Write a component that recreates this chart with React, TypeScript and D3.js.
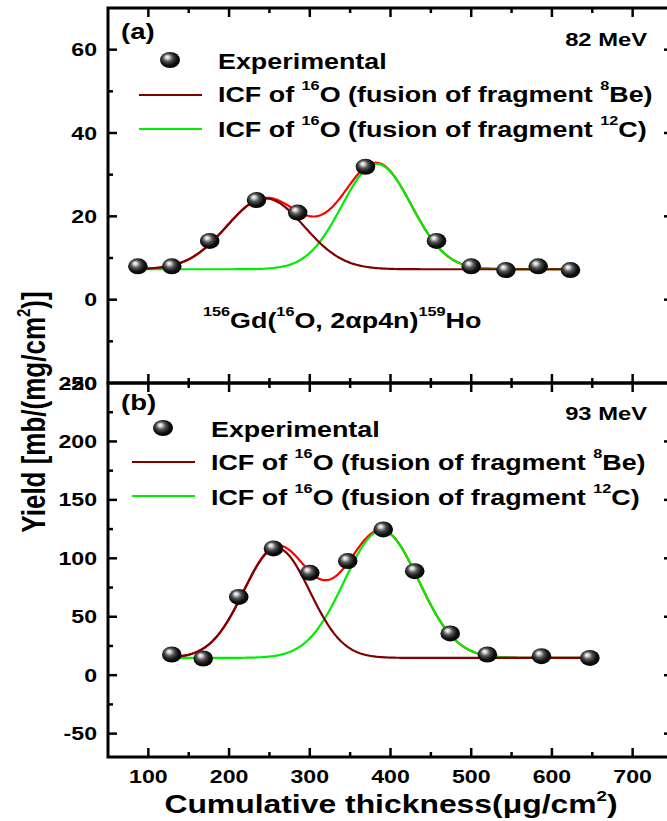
import React from "react";
import * as d3 from "d3";

// ---- data: panel (a) 82 MeV ----
const thickA = [87, 129, 176, 234, 285, 369, 457, 500, 543, 583, 623];
const yieldA = [8.0, 8.0, 14.1, 23.9, 20.9, 31.9, 14.1, 8.0, 7.1, 8.0, 7.1];
// Gaussian fit parameters: [baseline], centres, amplitudes, widths (Be, C)
const fitBaseA = 7.3;
const fitCentreA = [245, 383];
const fitAmpA = [17, 25.3];
const fitWidthA = [48, 43];

// ---- data: panel (b) 93 MeV ----
const thickB = [129, 168, 212, 255, 300, 347, 391, 430, 474, 520, 587, 647];
const yieldB = [17.7, 14.3, 67, 108.5, 87.6, 97.6, 124.7, 89, 35.7, 17.7, 16.3, 14.8];
const fitBaseB = 14.8;
const fitCentreB = [259, 389];
const fitAmpB = [94, 109];
const fitWidthB = [41, 46];

const xTicksMajor = [100, 200, 300, 400, 500, 600, 700];
const xTicksMinor = [150, 250, 350, 450, 550, 650];
const yTicksA = [-20, 0, 20, 40, 60];
const yMinorA = [-10, 10, 30, 50];
const yTicksB = [-50, 0, 50, 100, 150, 200, 250];
const yMinorB = [-25, 25, 75, 125, 175, 225];

const W = 667, H = 821;
const L = 108, R = 673, TOP = 8, MID = 383, BOT = 757;
const SX = 1.25;
const FONT = "'Liberation Sans', Arial, sans-serif";
const BROWN = "#800000", GREEN = "#00ee00", RED = "#ff0000";

const x = d3.scaleLinear().domain([50, 750]).range([L, R]);
const ya = d3.scaleLinear().domain([-20, 70]).range([MID, TOP]);
const yb = d3.scaleLinear().domain([-70, 250]).range([BOT, MID]);

function T({ x, y, size, anchor = "start", rot = false, children }: any) {
  return (
    <text
      transform={`translate(${x},${y}) scale(${SX},1)${rot ? " rotate(-90)" : ""}`}
      fontSize={size}
      textAnchor={anchor}
      fontFamily={FONT}
      fontWeight="bold"
      fill="#000"
    >
      {children}
    </text>
  );
}

function Sup({ t, size, d }: any) {
  return (
    <tspan dy={-d} fontSize={size}>
      {t}
    </tspan>
  );
}

function gauss(xv: number, c: number, a: number, w: number) {
  return a * Math.exp(-((xv - c) * (xv - c)) / (2 * w * w));
}

function Panel({ ys, thick, yld, base, centres, amps, widths, top, bottom, majors, minors }: any) {
  const x0 = thick[0], x1 = thick[thick.length - 1];
  const xs = d3.range(0, 301).map((i) => x0 + ((x1 - x0) * i) / 300);
  const mk = (f: (v: number) => number) =>
    d3.line<number>().x((v) => x(v)).y((v) => ys(f(v)))(xs) as string;
  const be = mk((v) => base + gauss(v, centres[0], amps[0], widths[0]));
  const c12 = mk((v) => base + gauss(v, centres[1], amps[1], widths[1]));
  const sum = mk(
    (v) => base + gauss(v, centres[0], amps[0], widths[0]) + gauss(v, centres[1], amps[1], widths[1])
  );
  return (
    <g>
      <path d={sum} fill="none" stroke={RED} strokeWidth={2.2} />
      <path d={c12} fill="none" stroke={GREEN} strokeWidth={2.2} />
      <path d={be} fill="none" stroke={BROWN} strokeWidth={2.2} />
      {thick.map((t: number, i: number) => (
        <ellipse key={i} cx={x(t)} cy={ys(yld[i])} rx={9.8} ry={8} fill="url(#sphere)" />
      ))}
      {/* ticks */}
      {xTicksMajor.map((t) => (
        <g key={"xm" + t}>
          <line x1={x(t)} x2={x(t)} y1={top} y2={top + 9} stroke="#000" strokeWidth={2.5} />
          <line x1={x(t)} x2={x(t)} y1={bottom} y2={bottom - 9} stroke="#000" strokeWidth={2.5} />
        </g>
      ))}
      {xTicksMinor.map((t) => (
        <g key={"xn" + t}>
          <line x1={x(t)} x2={x(t)} y1={top} y2={top + 5} stroke="#000" strokeWidth={2.5} />
          <line x1={x(t)} x2={x(t)} y1={bottom} y2={bottom - 5} stroke="#000" strokeWidth={2.5} />
        </g>
      ))}
      {majors.filter((t: number) => ys(t) > top + 2 && ys(t) < bottom - 2).map((t: number) => (
        <g key={"ym" + t}>
          <line x1={L} x2={L + 9} y1={ys(t)} y2={ys(t)} stroke="#000" strokeWidth={2.5} />
          <line x1={R} x2={R - 9} y1={ys(t)} y2={ys(t)} stroke="#000" strokeWidth={2.5} />
        </g>
      ))}
      {minors.map((t: number) => (
        <g key={"yn" + t}>
          <line x1={L} x2={L + 5} y1={ys(t)} y2={ys(t)} stroke="#000" strokeWidth={2.5} />
          <line x1={R} x2={R - 5} y1={ys(t)} y2={ys(t)} stroke="#000" strokeWidth={2.5} />
        </g>
      ))}
      {majors.map((t: number) => (
        <T key={"yl" + t} x={97} y={ys(t) + 6.5} size={18.5} anchor="end">
          {t < 0 ? "-" + Math.abs(t) : String(t)}
        </T>
      ))}
      <rect x={L} y={top} width={R - L} height={bottom - top} fill="none" stroke="#000" strokeWidth={3} />
    </g>
  );
}

function Legend({ sx, sy, lx0, lx1, ly, tx, tb }: any) {
  return (
    <g>
      <ellipse cx={sx} cy={sy} rx={10} ry={8} fill="url(#sphere)" />
      <line x1={lx0} x2={lx1} y1={ly[0]} y2={ly[0]} stroke={BROWN} strokeWidth={2.2} />
      <line x1={lx0} x2={lx1} y1={ly[1]} y2={ly[1]} stroke={GREEN} strokeWidth={2.2} />
      <T x={tx} y={tb[0]} size={21.5}>Experimental</T>
      <T x={tx} y={tb[1]} size={21.5}>
        ICF of <Sup t="16" size={13} d={12} />
        <tspan dy={12}>O (fusion of fragment </tspan>
        <Sup t="8" size={13} d={12} />
        <tspan dy={12}>Be)</tspan>
      </T>
      <T x={tx} y={tb[2]} size={21.5}>
        ICF of <Sup t="16" size={13} d={12} />
        <tspan dy={12}>O (fusion of fragment </tspan>
        <Sup t="12" size={13} d={12} />
        <tspan dy={12}>C)</tspan>
      </T>
    </g>
  );
}

export default function App() {
  return (
    <svg
      width={W}
      height={H}
      style={{ position: "absolute", left: 0, top: 0, background: "#fff" }}
    >
      <defs>
        <radialGradient id="sphere" cx="45%" cy="45%" r="60%" fx="35%" fy="30%">
          <stop offset="0%" stopColor="#ffffff" />
          <stop offset="15%" stopColor="#d8d8d8" />
          <stop offset="40%" stopColor="#555" />
          <stop offset="70%" stopColor="#111" />
          <stop offset="100%" stopColor="#000" />
        </radialGradient>
      </defs>
      <rect width={W} height={H} fill="#fff" />
      <Panel ys={ya} thick={thickA} yld={yieldA} base={fitBaseA} centres={fitCentreA} amps={fitAmpA}
        widths={fitWidthA} top={TOP} bottom={MID} majors={yTicksA} minors={yMinorA} />
      <Panel ys={yb} thick={thickB} yld={yieldB} base={fitBaseB} centres={fitCentreB} amps={fitAmpB}
        widths={fitWidthB} top={MID} bottom={BOT} majors={yTicksB} minors={yMinorB} />

      <Legend sx={170} sy={60} lx0={139} lx1={202} ly={[95, 129]} tx={218} tb={[69, 102, 137]} />
      <Legend sx={163} sy={428} lx0={132} lx1={195} ly={[462, 496]} tx={211} tb={[437, 470, 505]} />

      <T x={121} y={39} size={22}>(a)</T>
      <T x={121} y={410} size={22}>(b)</T>
      <T x={647} y={46} size={19} anchor="end">82 MeV</T>
      <T x={647} y={420} size={19} anchor="end">93 MeV</T>
      <T x={203} y={328} size={21.5}>
        <Sup t="156" size={13} d={12} />
        <tspan dy={12}>Gd(</tspan>
        <Sup t="16" size={13} d={12} />
        <tspan dy={12}>O, 2αp4n)</tspan>
        <Sup t="159" size={13} d={12} />
        <tspan dy={12}>Ho</tspan>
      </T>

      {xTicksMajor.map((t) => (
        <T key={"xl" + t} x={x(t)} y={783} size={18.5} anchor="middle">{String(t)}</T>
      ))}
      <T x={391} y={813} size={25.5} anchor="middle">
        Cumulative thickness(μg/cm<Sup t="2" size={15} d={12} />
        <tspan dy={12}>)</tspan>
      </T>
      <T x={45} y={412} size={26} anchor="middle" rot>
        Yield [mb/(mg/cm<Sup t="2" size={15} d={12} />
        <tspan dy={12}>)]</tspan>
      </T>
    </svg>
  );
}
